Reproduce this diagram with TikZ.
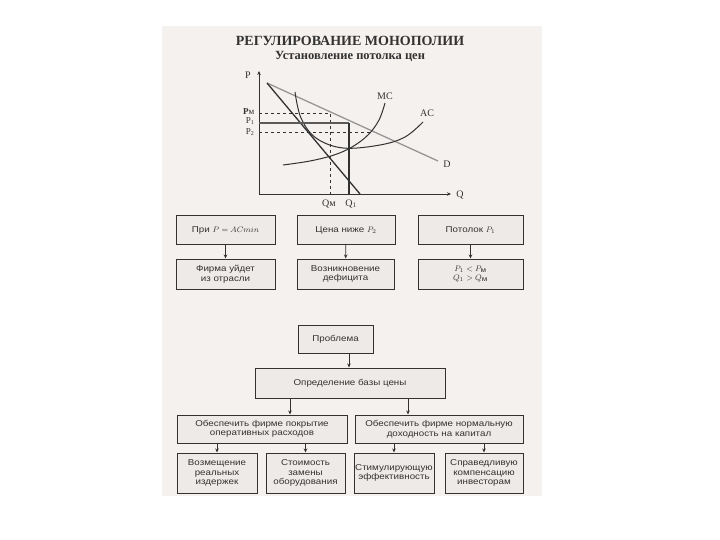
\documentclass[tikz,border=0pt]{standalone}
\usepackage{fontspec}
\setmainfont{Liberation Serif}
\setsansfont{Liberation Sans}[FakeStretch=1.15]
\usetikzlibrary{arrows.meta}
\definecolor{scan}{RGB}{245,241,239}
\definecolor{boxfill}{RGB}{238,234,232}
\definecolor{ink}{RGB}{50,50,50}
\definecolor{demand}{RGB}{150,150,150}
\begin{document}
\begin{tikzpicture}[x=1pt,y=-1pt,
    box/.style={draw=ink,line width=1pt,fill=boxfill,align=center,inner sep=1pt,
      font=\sffamily\fontsize{8.5}{9.5}\selectfont,text=ink},
    arr/.style={-{Stealth[length=4pt,width=3.5pt]},ink,line width=0.8pt},
    curve/.style={ink,line width=1pt},
    lbl/.style={font=\fontsize{10}{10}\selectfont,text=ink,inner sep=1pt},
    plbl/.style={font=\fontsize{9}{9}\selectfont,text=ink,inner sep=0.5pt,anchor=east}]
    \useasboundingbox (0,0) rectangle (720,540);
    \fill[white] (0,0) rectangle (720,540);
    \fill[scan] (162,26) rectangle (542,496);

    % titles
    \node[text=ink,font=\bfseries\fontsize{14}{14}\selectfont] (title) at (350,41) {РЕГУЛИРОВАНИЕ МОНОПОЛИИ};
    \node[text=ink,font=\bfseries\fontsize{12.5}{12.5}\selectfont] (subtitle) at (350,56) {Установление потолка цен};

    % graph
    \coordinate (O) at (259,194);
    \draw[arr] (O) -- (259,71);
    \draw[arr] (O) -- (451,194);
    \node[lbl] (P) at (248,75) {P};
    \node[lbl] (Q) at (460,195) {Q};
    \draw[demand,line width=1.3pt] (267,83) -- (438,161);
    \node[lbl] (D) at (447,164) {D};
    \draw[curve,line width=1.3pt] (267,83) -- (360,194);
    \draw[curve] plot[smooth,tension=0.6] coordinates {(295,92) (301,118) (316,138) (343,148) (380,145) (405,137) (423,122)};
    \node[lbl] (AC) at (427,113) {AC};
    \draw[curve] plot[smooth,tension=0.6] coordinates {(283,165) (310,161) (334,155) (352,147) (368,135) (379,120) (385,103)};
    \node[lbl] (MC) at (385,96) {MC};
    \draw[ink,dashed,line width=0.7pt] (259,113) -- (330,113) -- (330,194);
    \draw[ink!80,line width=1.1pt] (259,123) -- (349,123);
    \draw[ink,line width=1.7pt] (349,123) -- (349,194);
    \draw[ink,dashed,line width=0.7pt] (259,132) -- (373,132);
    \node[plbl] (Pm) at (255,112) {\textbf{P}м};
    \node[plbl] (P1) at (255,121.5) {P\textsubscript{1}};
    \node[plbl] (P2) at (255,132) {P\textsubscript{2}};
    \node[lbl] (Qm) at (329,204) {Qм};
    \node[lbl] (Q1) at (351,204) {Q\textsubscript{1}};

    % first block
    \node[box,minimum width=99pt,minimum height=28pt] (pri) at (225.5,230) {При $P = ACmin$};
    \node[box,minimum width=98pt,minimum height=28pt] (cena) at (346,230) {Цена ниже $P_2$};
    \node[box,minimum width=105pt,minimum height=28pt] (potolok) at (470.5,230) {Потолок $P_1$};
    \node[box,minimum width=99pt,minimum height=30pt] (uhod) at (225.5,274) {Фирма уйдет\\из отрасли};
    \node[box,minimum width=97pt,minimum height=30pt] (deficit) at (345.5,274) {Возникновение\\дефицита};
    \node[box,minimum width=105pt,minimum height=30pt] (neraven) at (470.5,274) {$P_1 < P_{\mbox{\scriptsize м}}$\\$Q_1 > Q_{\mbox{\scriptsize м}}$};
    \draw[arr] (pri) -- (uhod);
    \draw[arr] (cena) -- (deficit);
    \draw[arr] (potolok) -- (neraven);

    % second block
    \node[box,minimum width=75pt,minimum height=28pt] (problema) at (335.5,339) {Проблема};
    \node[box,minimum width=190pt,minimum height=30pt] (baza) at (350,383) {Определение базы цены};
    \node[box,minimum width=170pt,minimum height=28pt] (pokrytie) at (262,429) {Обеспечить фирме покрытие\\оперативных расходов};
    \node[box,minimum width=168pt,minimum height=28pt] (dohod) at (439,429) {Обеспечить фирме нормальную\\доходность на капитал};
    \node[box,minimum width=80pt,minimum height=40pt] (vozm) at (217,473) {Возмещение\\реальных\\издержек};
    \node[box,minimum width=79pt,minimum height=40pt] (zamena) at (305.5,473) {Стоимость\\замены\\оборудования};
    \node[box,minimum width=80pt,minimum height=40pt] (stimul) at (394,473) {Стимулирующую\\эффективность};
    \node[box,minimum width=78pt,minimum height=40pt] (komp) at (484,473) {Справедливую\\компенсацию\\инвесторам};
    \draw[arr] ([xshift=13.5pt]problema.south) -- ([xshift=13.5pt]problema.south |- baza.north);
    \draw[arr] ([xshift=-60pt]baza.south) -- ([xshift=-60pt]baza.south |- pokrytie.north);
    \draw[arr] ([xshift=58pt]baza.south) -- ([xshift=58pt]baza.south |- dohod.north);
    \draw[arr] (pokrytie.south -| vozm.north) -- (vozm.north);
    \draw[arr] (pokrytie.south -| zamena.north) -- (zamena.north);
    \draw[arr] (dohod.south -| stimul.north) -- (stimul.north);
    \draw[arr] (dohod.south -| komp.north) -- (komp.north);
\end{tikzpicture}
\end{document}
